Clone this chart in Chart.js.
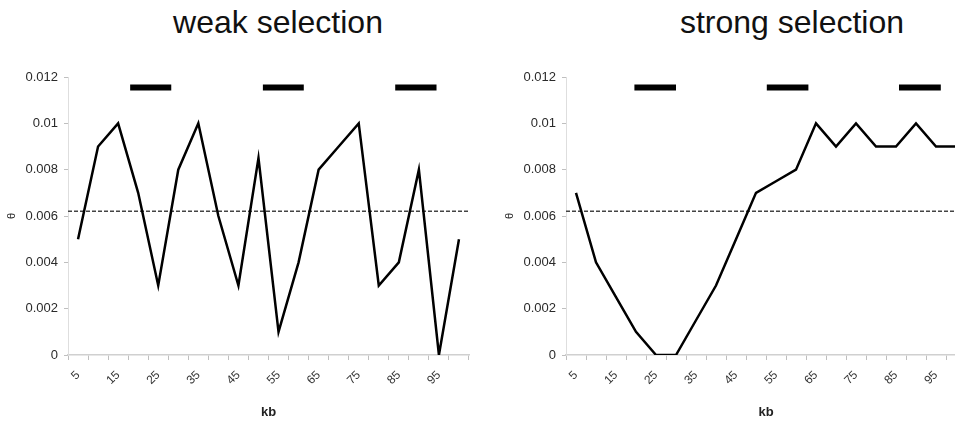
<!DOCTYPE html>
<html>
<head>
<meta charset="utf-8">
<script src="https://cdn.jsdelivr.net/npm/chart.js@4"></script>
<style>
  html, body { margin: 0; padding: 0; background: #fff; width: 955px; height: 421px; overflow: hidden; position: relative; }
  .title { position: absolute; top: 4px; font-family: "Liberation Sans", Arial, sans-serif; font-size: 32px; line-height: 36px; color: #111; white-space: nowrap; transform: translateX(-50%); }
  canvas { position: absolute; top: 0; }
</style>
</head>
<body>
<div class="title" style="left:278px">weak selection</div>
<div class="title" style="left:792px">strong selection</div>
<canvas id="weak" width="480" height="421" style="left:0px;width:480px;height:421px"></canvas>
<canvas id="strong" width="500" height="421" style="left:480px;width:500px;height:421px"></canvas>
<script>
// ---- data ----
const kbLabels = ['5','10','15','20','25','30','35','40','45','50','55','60','65','70','75','80','85','90','95','100'];
const thetaWeak = [0.005, 0.009, 0.010, 0.007, 0.003, 0.008, 0.010, 0.006, 0.003, 0.0085,
                   0.001, 0.004, 0.008, 0.009, 0.010, 0.003, 0.004, 0.008, 0.000, 0.005];
const thetaStrong = [0.007, 0.004, 0.0025, 0.001, 0.000, 0.000, 0.0015, 0.003, 0.005, 0.007,
                     0.0075, 0.008, 0.010, 0.009, 0.010, 0.009, 0.009, 0.010, 0.009, 0.009];
const thetaMean = 0.0062;
const regionsWeak = [[18, 28.25], [51.1, 61.3], [84.1, 94.4]];
const regionsStrong = [[19.6, 30], [52.7, 63.1], [85.75, 96.2]];
const regionLevel = 0.01155;
const kbRange = [2.5, 102.5];
const thetaRange = [0, 0.012];
const thetaStep = 0.002;

const FONT = '"Liberation Sans", Arial, sans-serif';

function makeChart(id, values, regions, padL, padR) {
  const datasets = [
    { data: values, xAxisID: 'x', yAxisID: 'y', borderColor: '#000', borderWidth: 2.5,
      pointRadius: 0, tension: 0, fill: false, order: 1 },
    { data: [{x: kbRange[0], y: thetaMean}, {x: kbRange[1], y: thetaMean}], xAxisID: 'xb', yAxisID: 'y',
      borderColor: '#444', borderWidth: 1.5, borderDash: [4, 2], pointRadius: 0, fill: false, order: 2 }
  ];
  regions.forEach(r => datasets.push({
    data: [{x: r[0], y: regionLevel}, {x: r[1], y: regionLevel}], xAxisID: 'xb', yAxisID: 'y',
    borderColor: '#000', borderWidth: 6, borderCapStyle: 'butt', pointRadius: 0, fill: false, order: 0
  }));
  return new Chart(document.getElementById(id), {
    type: 'line',
    data: { labels: kbLabels, datasets },
    options: {
      responsive: false, animation: false, devicePixelRatio: 1,
      layout: { padding: { left: padL, right: padR, top: 77, bottom: 0 } },
      plugins: { legend: { display: false }, tooltip: { enabled: false }, title: { display: false } },
      scales: {
        x: {
          type: 'category', offset: true,
          grid: { offset: true, drawOnChartArea: false, drawTicks: true, tickLength: 5, color: '#bfbfbf', lineWidth: 1 },
          border: { color: '#d0d0d0', width: 1.5 },
          ticks: { autoSkip: false, minRotation: 45, maxRotation: 45, padding: 8, color: '#333',
                   font: { family: FONT, size: 12 },
                   callback: (v, i) => (i % 2 === 0 ? kbLabels[i] : '') },
          title: { display: true, text: 'kb', color: '#222', font: { family: FONT, size: 13, weight: 'bold' },
                   padding: { top: 4, bottom: 1 } },
          afterFit: s => { s.height = 66; }
        },
        xb: { type: 'linear', display: false, min: kbRange[0], max: kbRange[1] },
        y: {
          min: thetaRange[0], max: thetaRange[1],
          grid: { drawOnChartArea: false, drawTicks: true, tickLength: 4, color: '#bfbfbf' },
          border: { color: '#dedede', width: 1 },
          ticks: { stepSize: thetaStep, padding: 6, color: '#2a2a2a', font: { family: FONT, size: 13 },
                   callback: v => String(+(+v).toFixed(3)) },
          title: { display: true, text: 'θ', color: '#222', font: { family: FONT, size: 11 },
                   padding: { top: 4, bottom: 0 } },
          afterFit: s => { s.width = 67; }
        }
      }
    }
  });
}

makeChart('weak', thetaWeak, regionsWeak, 1, 11);
makeChart('strong', thetaStrong, regionsStrong, 19, 14);
</script>
</body>
</html>
